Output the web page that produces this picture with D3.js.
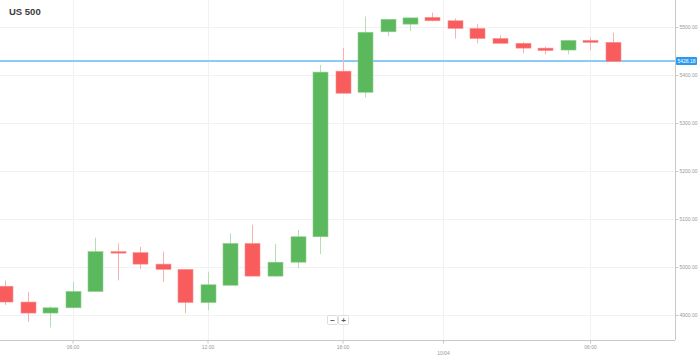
<!DOCTYPE html>
<html>
<head>
<meta charset="utf-8">
<script src="https://cdn.jsdelivr.net/npm/d3@7"></script>
<style>
  html, body { margin: 0; padding: 0; background: #fff; }
  svg { display: block; font-family: "Liberation Sans", Arial, sans-serif; }
</style>
</head>
<body>
<svg id="chart" width="699" height="357"></svg>
<script>
// ---- data ----
const title = "US 500";
const opens  = [4960, 4927, 4904, 4915, 4949, 5032, 5030, 5006, 4995, 4926, 4962, 5049, 4981, 5010, 5063, 5408, 5364, 5490, 5506, 5520, 5513, 5497, 5476, 5466, 5456, 5452, 5472, 5468];
const highs  = [4972, 4948, 4918, 4969, 5061, 5049, 5042, 5032, 4996, 4990, 5070, 5088, 5048, 5077, 5421, 5456, 5522, 5516, 5519, 5530, 5518, 5506, 5483, 5469, 5459, 5472, 5478, 5488];
const lows   = [4921, 4886, 4874, 4914, 4948, 4972, 4996, 4969, 4904, 4910, 4962, 4981, 4980, 4998, 5027, 5362, 5353, 5481, 5492, 5512, 5476, 5466, 5466, 5445, 5443, 5443, 5452, 5427];
const closes = [4927, 4904, 4915, 4949, 5032, 5029, 5006, 4995, 4926, 4963, 5049, 4981, 5010, 5063, 5406, 5362, 5489, 5516, 5519, 5513, 5497, 5476, 5466, 5456, 5451, 5472, 5468, 5428.18];
const lastPrice = 5428.18;
const priceTicks = [4900, 5000, 5100, 5200, 5300, 5400, 5500];
const timeTickIndex = [3, 9, 15, 19.47, 26];
const timeTickLabels = ["06:00", "12:00", "18:00", "10/04", "06:00"];

// ---- layout ----
const svg = d3.select("#chart");
const plotRight = 675, plotBottom = 340;

const x = d3.scaleLinear().domain([0, 30]).range([5, 680]);
const y = d3.scaleLinear().domain([4900, 5500]).range([315, 27]);

const candles = opens.map((o, i) => ({ i, o, h: highs[i], l: lows[i], c: closes[i] }));

// gridlines
svg.append("g").selectAll("line").data(priceTicks).join("line")
  .attr("x1", 0).attr("x2", plotRight)
  .attr("y1", d => Math.round(y(d)) + 0.5).attr("y2", d => Math.round(y(d)) + 0.5)
  .attr("stroke", "#f2f2f2").attr("stroke-width", 1);
svg.append("g").selectAll("line").data(timeTickIndex).join("line")
  .attr("x1", d => Math.round(x(d)) + 0.5).attr("x2", d => Math.round(x(d)) + 0.5)
  .attr("y1", 0).attr("y2", plotBottom)
  .attr("stroke", "#f2f2f2").attr("stroke-width", 1);

// title
svg.append("text").attr("x", 9).attr("y", 15)
  .attr("font-size", 9.5).attr("font-weight", "bold").attr("fill", "#3a3a3a")
  .text(title);

// last price line (under candles)
const ly = Math.round(y(lastPrice));
svg.append("rect").attr("x", 0).attr("width", plotRight).attr("y", ly - 1).attr("height", 2)
  .attr("fill", "#8ccbf6");

// candles
const up = "#5cb85c", down = "#f85c5c";
const g = svg.append("g");
g.selectAll("line.wick").data(candles).join("line")
  .attr("class", "wick")
  .attr("x1", d => Math.round(x(d.i)) + 0.5).attr("x2", d => Math.round(x(d.i)) + 0.5)
  .attr("y1", d => y(d.h)).attr("y2", d => y(d.l))
  .attr("stroke", d => d.c >= d.o ? "#b4deb4" : "#fbb0b0").attr("stroke-width", 1);
g.selectAll("rect.body").data(candles).join("rect")
  .attr("class", "body")
  .attr("x", d => Math.round(x(d.i)) - 7).attr("width", 15)
  .attr("y", d => y(Math.max(d.o, d.c)))
  .attr("height", d => Math.max(1.5, Math.abs(y(d.o) - y(d.c))))
  .attr("fill", d => d.c >= d.o ? up : down)
  .attr("stroke", d => d.c >= d.o ? "#8fcf8f" : "#fb9090").attr("stroke-width", 0.6);

// axes
const yAxis = d3.axisRight(y).tickValues(priceTicks).tickSize(3).tickPadding(1)
  .tickFormat(d => d3.format(".2f")(d));
const ya = svg.append("g").attr("transform", `translate(${plotRight + 0.5},0)`).call(yAxis);
ya.select(".domain").attr("d", `M0,0V${plotBottom}`).attr("stroke", "#c8c8c8");
ya.selectAll(".tick line").attr("stroke", "#c8c8c8");
ya.selectAll(".tick text").attr("font-size", 5).attr("fill", "#999").attr("font-family", "Liberation Sans, Arial, sans-serif");

const xAxis = d3.axisBottom(x).tickValues(timeTickIndex).tickSize(3).tickPadding(2)
  .tickFormat((d, i) => timeTickLabels[i]);
const xa = svg.append("g").attr("transform", `translate(0,${plotBottom + 0.5})`).call(xAxis);
xa.select(".domain").attr("d", `M0,0H${plotRight}`).attr("stroke", "#c8c8c8");
xa.selectAll(".tick line").attr("stroke", "#c8c8c8");
xa.selectAll(".tick text").attr("font-size", 5).attr("fill", "#999").attr("font-family", "Liberation Sans, Arial, sans-serif")
  .attr("dy", (d, i) => timeTickLabels[i].includes("/") ? "1.9em" : "0.71em");

// badge
svg.append("rect").attr("x", plotRight + 1).attr("y", ly - 4).attr("width", 21).attr("height", 8)
  .attr("rx", 1).attr("fill", "#2a9af0");
svg.append("text").attr("x", plotRight + 11.5).attr("y", ly + 1.8).attr("text-anchor", "middle")
  .attr("font-size", 5).attr("fill", "#fff").text(d3.format(".2f")(lastPrice));

// zoom buttons
const btns = svg.append("g").attr("transform", "translate(327,315)");
["−", "+"].forEach((s, k) => {
  btns.append("rect").attr("x", k * 11 + 0.5).attr("y", 0.5).attr("width", 10).attr("height", 9)
    .attr("fill", "#fff").attr("stroke", "#ddd").attr("rx", 1);
  btns.append("text").attr("x", k * 11 + 5.5).attr("y", 7.5).attr("text-anchor", "middle")
    .attr("font-size", 8).attr("font-weight", "bold").attr("fill", "#555").text(s);
});
</script>
</body>
</html>
